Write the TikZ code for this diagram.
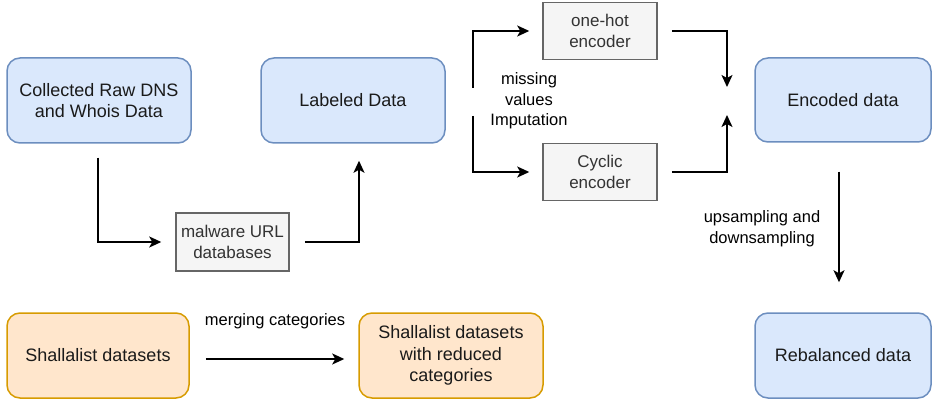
\documentclass[tikz,border=0pt]{standalone}
\usepackage{fontspec}
\setmainfont{Liberation Sans}
\usetikzlibrary{arrows.meta,calc}
\definecolor{bluefill}{HTML}{DAE8FC}
\definecolor{bluedraw}{HTML}{6C8EBF}
\definecolor{orfill}{HTML}{FFE6CC}
\definecolor{ordraw}{HTML}{D79B00}
\definecolor{grfill}{HTML}{F5F5F5}
\definecolor{grdraw}{HTML}{666666}
\definecolor{grtext}{HTML}{333333}
\definecolor{dtext}{HTML}{1A1A1A}
\tikzset{
  boxbase/.style={align=center, inner sep=0pt, line width=1.5pt,
    font=\fontsize{18}{21.6}\selectfont, text=dtext},
  bluebox/.style={boxbase, rounded corners=13pt, fill=bluefill, draw=bluedraw},
  orbox/.style={boxbase, rounded corners=13pt, fill=orfill, draw=ordraw},
  graybox/.style={boxbase, fill=grfill, draw=grdraw, text=grtext,
    font=\fontsize{17}{20.4}\selectfont},
  arr/.style={line width=1.5pt, -{Stealth[length=12pt,width=11pt,inset=3pt]}},
  plainline/.style={line width=1.5pt},
  elabel/.style={align=center, inner sep=0pt, font=\fontsize{16.5}{20.5}\selectfont}
}
\begin{document}
\begin{tikzpicture}[x=1pt,y=-1pt]
\useasboundingbox (0,0) rectangle (932,401);
% blue boxes
\node[bluebox, minimum width=184pt, minimum height=85pt] (coll) at (99,100.5) {Collected Raw DNS\\and Whois Data};
\node[bluebox, minimum width=184pt, minimum height=85pt] (lab) at (353,100.5) {Labeled Data};
\node[bluebox, minimum width=176pt, minimum height=84pt] (enc) at (843,100) {Encoded data};
\node[bluebox, minimum width=176pt, minimum height=85pt] (reb) at (843,355.5) {Rebalanced data};
% orange boxes
\node[orbox, minimum width=182pt, minimum height=85pt] (shal) at (98,355.5) {Shallalist datasets};
\node[orbox, minimum width=184pt, minimum height=85pt] (shred) at (451,355.5) {Shallalist datasets\\with reduced\\categories};
% gray boxes
\node[graybox, minimum width=113pt, minimum height=58pt] (mal) at (232.5,242) {malware URL\\databases};
\node[graybox, minimum width=114pt, minimum height=57pt] (oh) at (600,31) {one-hot\\encoder};
\node[graybox, minimum width=114pt, minimum height=57pt] (cyc) at (600,172) {Cyclic\\encoder};
% free-end coordinates
\coordinate (imp1) at (473,88);
\coordinate (imp2) at (473,116);
\coordinate (encin1) at (727,87);
\coordinate (encin2) at (727,115);
% connectors
\draw[arr, shorten <=14pt, shorten >=14pt] ([xshift=-1pt]coll.south) |- (mal.west);
\draw[arr, shorten <=15pt, shorten >=17pt] (mal.east) -| ([xshift=6pt]lab.south);
\draw[arr, shorten >=13pt] (imp1) |- (oh.west);
\draw[arr, shorten >=13pt] (imp2) |- (cyc.west);
\draw[arr, shorten <=14pt] (oh.east) -| (encin1);
\draw[arr, shorten <=14pt] (cyc.east) -| (encin2);
\draw[arr, shorten <=29pt, shorten >=30pt] ([xshift=-4pt]enc.south) -- ([xshift=-4pt]reb.north);
\draw[arr, shorten <=16pt, shorten >=14pt] ([yshift=-3.5pt]shal.east) -- ([yshift=-3.5pt]shred.west);
% labels
\node[elabel] (implabel) at (529,101) {missing\\values\\Imputation};
\node[elabel] (uplabel) at (762,228.5) {upsampling and\\downsampling};
\node[elabel] (mergelabel) at (275,321) {merging categories};
\end{tikzpicture}
\end{document}
